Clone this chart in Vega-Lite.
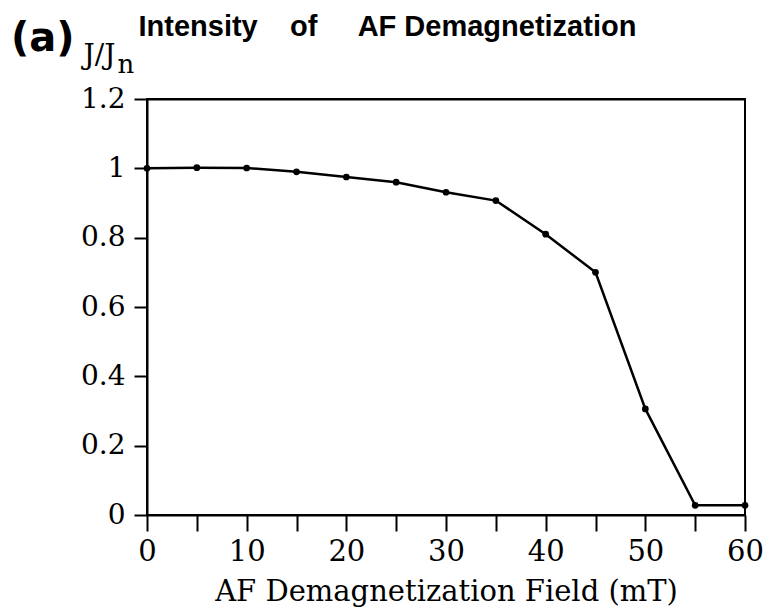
{
  "$schema": "https://vega.github.io/schema/vega-lite/v6.json",
  "width": 598,
  "height": 416,
  "autosize": "none",
  "padding": {"left": 147, "top": 99, "right": 23, "bottom": 98},
  "background": "white",
  "config": {
    "view": {"stroke": "black", "strokeWidth": 2},
    "axis": {"grid": false, "domainColor": "black", "domainWidth": 2, "tickColor": "black", "tickWidth": 2, "labelColor": "black", "titleColor": "black", "labelFont": "DejaVu Serif", "titleFont": "DejaVu Serif", "titleFontWeight": "normal"}
  },
  "title": {"text": "(a)", "font": "DejaVu Sans", "fontWeight": "bold", "fontSize": 40, "anchor": "start", "frame": "group", "baseline": "alphabetic", "dx": -136, "dy": 31, "offset": -48, "color": "black"},
  "data": {"values": [
    {"field": 0, "J": 1.0},
    {"field": 5, "J": 1.002},
    {"field": 10, "J": 1.001},
    {"field": 15, "J": 0.99},
    {"field": 20, "J": 0.975},
    {"field": 25, "J": 0.96},
    {"field": 30, "J": 0.931},
    {"field": 35, "J": 0.907},
    {"field": 40, "J": 0.81},
    {"field": 45, "J": 0.70},
    {"field": 50, "J": 0.306},
    {"field": 55, "J": 0.028},
    {"field": 60, "J": 0.028}
  ]},
  "layer": [
    {
      "mark": {"type": "line", "color": "black", "strokeWidth": 2.5},
      "encoding": {
        "x": {"field": "field", "type": "quantitative", "scale": {"domain": [0, 60], "nice": false},
          "axis": {"orient": "bottom", "values": [0,5,10,15,20,25,30,35,40,45,50,55,60], "labelExpr": "datum.value % 10 === 0 ? datum.label : ''", "tickSize": 16, "labelFontSize": 29, "labelPadding": 6, "labelFlush": false, "title": "AF Demagnetization Field (mT)", "titleFontSize": 29, "titlePadding": 11}},
        "y": {"field": "J", "type": "quantitative", "scale": {"domain": [0, 1.2], "nice": false},
          "axis": {"values": [0, 0.2, 0.4, 0.6, 0.8, 1, 1.2], "format": "~g", "tickSize": 13, "labelFontSize": 28, "labelPadding": 9, "labelFlush": false, "title": "J/J", "titleAngle": 0, "titleFontSize": 28, "titleAlign": "left", "titleBaseline": "alphabetic", "titleX": -64, "titleY": -36}}
      }
    },
    {
      "mark": {"type": "point", "filled": true, "color": "black", "size": 45, "opacity": 1},
      "encoding": {
        "x": {"field": "field", "type": "quantitative",
          "axis": {"orient": "top", "labels": false, "ticks": false, "domain": true, "title": "Intensity\u00a0\u00a0\u00a0\u00a0of\u00a0\u00a0\u00a0\u00a0\u00a0AF Demagnetization", "titleFont": "Liberation Sans", "titleFontWeight": "bold", "titleFontSize": 29, "titleAlign": "left", "titleBaseline": "alphabetic", "titleX": -9, "titleY": -64}},
        "y": {"field": "J", "type": "quantitative",
          "axis": {"orient": "left", "labels": false, "ticks": false, "domain": false, "title": "n", "titleAngle": 0, "titleFontSize": 26, "titleAlign": "left", "titleBaseline": "alphabetic", "titleX": -30, "titleY": -27}}
      }
    }
  ],
  "resolve": {"axis": {"x": "independent", "y": "independent"}}
}
